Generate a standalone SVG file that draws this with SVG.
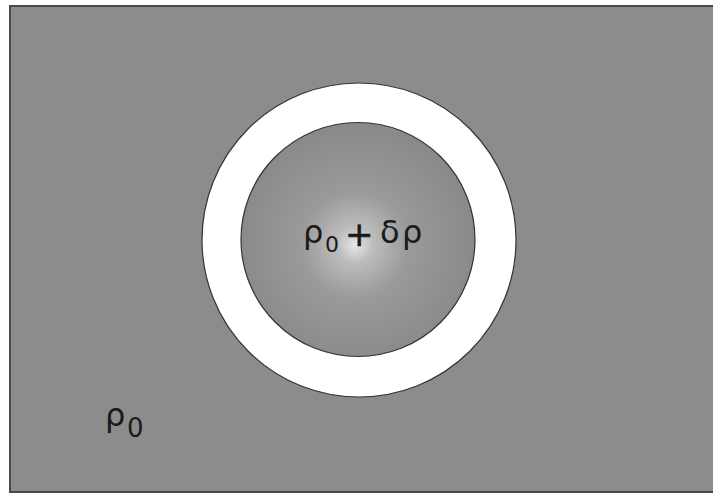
<svg xmlns="http://www.w3.org/2000/svg" width="713" height="495" viewBox="0 0 713 495">
<defs>
<radialGradient id="glow" cx="355" cy="245" r="118" gradientUnits="userSpaceOnUse">
<stop offset="0" stop-color="#e8e8e8"/>
<stop offset="0.15" stop-color="#bdbdbd"/>
<stop offset="0.45" stop-color="#9a9a9a"/>
<stop offset="1" stop-color="#8a8a8a"/>
</radialGradient>
<style>
.lbl{font-family:"DejaVu Sans","Liberation Sans",sans-serif;fill:#1a1a1a;font-size:32px}
.edge{stroke:#333;stroke-width:1.2}
</style>
</defs>
<rect width="713" height="495" fill="#ffffff"/>
<g id="medium">
<rect x="10" y="6" width="710" height="486" fill="#8c8c8c" stroke="#4a4a4a" stroke-width="2"/>
<text class="lbl" x="105" y="426">ρ<tspan font-size="26" x="127" y="437">0</tspan></text>
</g>
<g id="shell">
<circle cx="359" cy="240" r="157" fill="#ffffff" class="edge"/>
</g>
<g id="core">
<circle cx="358" cy="239.5" r="117" fill="url(#glow)" class="edge"/>
<text class="lbl" x="303" y="243">ρ<tspan font-size="22" x="325" y="252">0</tspan><tspan x="345" y="246" font-size="34" stroke="#1a1a1a" stroke-width="0.6">+</tspan><tspan x="380" y="243">δ</tspan><tspan x="402" y="243">ρ</tspan></text>
</g>
</svg>
